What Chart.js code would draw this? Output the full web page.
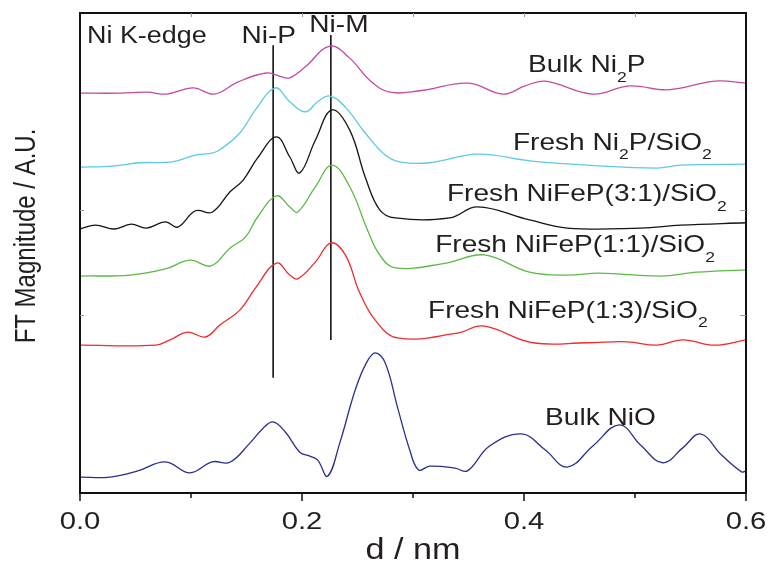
<!DOCTYPE html>
<html>
<head>
<meta charset="utf-8">
<script src="https://cdn.jsdelivr.net/npm/chart.js@4/dist/chart.umd.min.js"></script>
<style>
  html, body { margin: 0; padding: 0; background: #fff; }
  canvas { display: block; }
</style>
</head>
<body>
<canvas id="chart" width="770" height="561"></canvas>
<script>
// FT magnitude curves, [d (nm), offset magnitude (A.U.)]
const bulkNi2P = [
  [0.000, 8.33], [0.036, 8.33], [0.061, 8.35], [0.078, 8.31], [0.102, 8.44], [0.121, 8.31],
  [0.142, 8.56], [0.168, 8.75], [0.182, 8.67], [0.189, 8.65], [0.203, 8.88], [0.225, 9.31],
  [0.243, 9.06], [0.261, 8.60], [0.279, 8.35], [0.306, 8.38], [0.350, 8.54], [0.381, 8.31],
  [0.401, 8.48], [0.419, 8.58], [0.462, 8.31], [0.495, 8.48], [0.530, 8.40], [0.572, 8.58],
  [0.600, 8.54]
];
const freshNi2P = [
  [0.000, 6.79], [0.030, 6.81], [0.054, 6.88], [0.083, 6.90], [0.104, 7.04], [0.119, 7.08],
  [0.126, 7.15], [0.144, 7.50], [0.158, 7.98], [0.176, 8.44], [0.189, 8.15], [0.203, 7.94],
  [0.214, 8.15], [0.225, 8.27], [0.239, 8.04], [0.257, 7.50], [0.275, 7.04], [0.288, 6.90],
  [0.315, 6.88], [0.358, 7.06], [0.405, 6.92], [0.457, 6.83], [0.520, 6.77], [0.541, 6.83],
  [0.600, 6.85]
];
const freshNiFeP31 = [
  [0.000, 5.50], [0.014, 5.58], [0.031, 5.50], [0.046, 5.60], [0.060, 5.52], [0.077, 5.65],
  [0.088, 5.54], [0.104, 5.88], [0.119, 5.85], [0.135, 6.27], [0.147, 6.52], [0.160, 6.98],
  [0.177, 7.42], [0.189, 7.00], [0.198, 6.67], [0.212, 7.35], [0.227, 7.98], [0.243, 7.56],
  [0.257, 6.58], [0.270, 5.90], [0.284, 5.73], [0.333, 5.73], [0.358, 5.96], [0.405, 5.69],
  [0.439, 5.52], [0.505, 5.52], [0.541, 5.58], [0.600, 5.63]
];
const freshNiFeP11 = [
  [0.000, 4.52], [0.045, 4.54], [0.077, 4.67], [0.099, 4.85], [0.118, 4.73], [0.135, 5.10],
  [0.149, 5.33], [0.160, 5.75], [0.177, 6.19], [0.189, 5.96], [0.196, 5.85], [0.212, 6.38],
  [0.227, 6.83], [0.243, 6.38], [0.259, 5.48], [0.270, 4.96], [0.284, 4.69], [0.330, 4.79],
  [0.364, 4.96], [0.405, 4.60], [0.439, 4.54], [0.468, 4.58], [0.523, 4.52], [0.556, 4.60],
  [0.600, 4.65]
];
const freshNiFeP13 = [
  [0.000, 3.08], [0.068, 3.08], [0.081, 3.19], [0.097, 3.35], [0.113, 3.25], [0.126, 3.50],
  [0.144, 3.81], [0.158, 4.27], [0.177, 4.79], [0.189, 4.54], [0.196, 4.46], [0.212, 4.81],
  [0.226, 5.21], [0.239, 4.96], [0.252, 4.17], [0.266, 3.60], [0.286, 3.23], [0.340, 3.33],
  [0.363, 3.48], [0.408, 3.13], [0.457, 3.13], [0.493, 3.15], [0.520, 3.08], [0.543, 3.19],
  [0.572, 3.08], [0.600, 3.19]
];
const bulkNiO = [
  [0.000, 0.33], [0.027, 0.33], [0.052, 0.46], [0.077, 0.65], [0.099, 0.42], [0.119, 0.65],
  [0.135, 0.64], [0.153, 1.04], [0.165, 1.35], [0.174, 1.48], [0.185, 1.27], [0.198, 0.85],
  [0.207, 0.77], [0.214, 0.69], [0.223, 0.35], [0.234, 1.04], [0.248, 2.15], [0.258, 2.71],
  [0.266, 2.92], [0.275, 2.71], [0.286, 1.79], [0.297, 0.90], [0.305, 0.48], [0.315, 0.56],
  [0.338, 0.52], [0.349, 0.46], [0.369, 0.98], [0.398, 1.23], [0.419, 0.90], [0.439, 0.54],
  [0.462, 0.98], [0.486, 1.42], [0.505, 1.00], [0.525, 0.63], [0.543, 0.94], [0.559, 1.23],
  [0.578, 0.79], [0.596, 0.44], [0.600, 0.46]
];

// bond distance markers
const niPLine = [[0.174, 2.40], [0.174, 9.33]];
const niMLine = [[0.226, 3.19], [0.226, 9.54]];

// axis ticks
const xMajorTicks = [0.0, 0.2, 0.4, 0.6];
const xTickLabels = ['0.0', '0.2', '0.4', '0.6'];
const xMinorTicks = [0.1, 0.3, 0.5];
const yTicks = [3.7, 5.9];

// text placed in data units: [text, d, magnitude, align]   ("_" = subscript next char)
const annotations = [
  ['Ni K-edge', 0.0063, 9.375, 'left'],
  ['Ni-P', 0.170, 9.375, 'center'],
  ['Ni-M', 0.2333, 9.60, 'center'],
  ['Bulk Ni_2P', 0.4036, 8.77, 'left'],
  ['Fresh Ni_2P/SiO_2', 0.390, 7.15, 'left'],
  ['Fresh NiFeP(3:1)/SiO_2', 0.3306, 6.08, 'left'],
  ['Fresh NiFeP(1:1)/SiO_2', 0.320, 5.02, 'left'],
  ['Fresh NiFeP(1:3)/SiO_2', 0.3135, 3.65, 'left'],
  ['Bulk NiO', 0.419, 1.42, 'left']
];

const FONT = '"Liberation Sans", Arial, sans-serif';
const TEXT = '#231f20';
const STRETCH = 1.17;

function toXY(pts) {
  return pts.map(([x, y]) => ({ x, y }));
}

function curve(pts, color) {
  return {
    data: toXY(pts),
    borderColor: color,
    borderWidth: 1.3,
    pointRadius: 0,
    tension: 0.4,
    fill: false,
  };
}

function marker(pts) {
  return {
    data: toXY(pts),
    borderColor: '#111',
    borderWidth: 1.6,
    pointRadius: 0,
    tension: 0,
    fill: false,
  };
}

// splits "Ni_2P" into runs of normal / subscript text
function runs(text) {
  const out = [];
  for (let i = 0; i < text.length; i++) {
    if (text[i] === '_' && i + 1 < text.length) {
      out.push({ t: text[i + 1], sub: true });
      i++;
    } else if (out.length && !out[out.length - 1].sub) {
      out[out.length - 1].t += text[i];
    } else {
      out.push({ t: text[i], sub: false });
    }
  }
  return out;
}

function drawLabel(ctx, text, x, y, size, align) {
  const parts = runs(text);
  const subSize = Math.round(size * 0.62);
  let width = 0;
  parts.forEach((p) => {
    ctx.font = (p.sub ? subSize : size) + 'px ' + FONT;
    p.w = ctx.measureText(p.t).width;
    width += p.w;
  });
  ctx.save();
  ctx.translate(x, y);
  ctx.scale(STRETCH, 1);
  let cx = align === 'center' ? -width / 2 : 0;
  ctx.textAlign = 'left';
  ctx.textBaseline = 'alphabetic';
  ctx.fillStyle = TEXT;
  parts.forEach((p) => {
    ctx.font = (p.sub ? subSize : size) + 'px ' + FONT;
    ctx.fillText(p.t, cx, p.sub ? size * 0.4 : 0);
    cx += p.w;
  });
  ctx.restore();
}

const framePlugin = {
  id: 'frame',
  afterDraw(chart) {
    const { ctx, chartArea: a, scales } = chart;
    const xs = scales.x, ys = scales.y;

    ctx.save();
    // box
    ctx.strokeStyle = '#111';
    ctx.lineWidth = 2;
    ctx.strokeRect(a.left, a.top, a.right - a.left, a.bottom - a.top);

    // bottom ticks (outward) and top ticks (inward)
    ctx.lineWidth = 1.5;
    ctx.beginPath();
    xMajorTicks.forEach((v) => {
      const px = xs.getPixelForValue(v);
      ctx.moveTo(px, a.bottom);
      ctx.lineTo(px, a.bottom + 8);
    });
    xMinorTicks.forEach((v) => {
      const px = xs.getPixelForValue(v);
      ctx.moveTo(px, a.bottom);
      ctx.lineTo(px, a.bottom + 5);
    });
    ctx.stroke();

    ctx.strokeStyle = '#999';
    ctx.lineWidth = 1;
    ctx.beginPath();
    [0.1, 0.2, 0.3, 0.4, 0.5].forEach((v) => {
      const px = Math.round(xs.getPixelForValue(v)) + 0.5;
      ctx.moveTo(px, a.top);
      ctx.lineTo(px, a.top + 4);
    });
    yTicks.forEach((v) => {
      const py = Math.round(ys.getPixelForValue(v)) + 0.5;
      ctx.moveTo(a.left, py);
      ctx.lineTo(a.left + 4, py);
      ctx.moveTo(a.right, py);
      ctx.lineTo(a.right - 6, py);
    });
    ctx.stroke();
    ctx.restore();

    // tick labels
    ctx.save();
    ctx.fillStyle = TEXT;
    ctx.font = '24px ' + FONT;
    ctx.textAlign = 'center';
    ctx.textBaseline = 'alphabetic';
    xMajorTicks.forEach((v, i) => {
      ctx.save();
      ctx.translate(xs.getPixelForValue(v), 529);
      ctx.scale(1.22, 1);
      ctx.fillText(xTickLabels[i], 0, 0);
      ctx.restore();
    });

    // axis titles
    ctx.save();
    ctx.font = '29px ' + FONT;
    ctx.translate((a.left + a.right) / 2, 559);
    ctx.scale(1.18, 1);
    ctx.fillText('d / nm', 0, 0);
    ctx.restore();

    ctx.save();
    ctx.font = '24px ' + FONT;
    ctx.translate(35, 236);
    ctx.scale(1.25, 1);
    ctx.rotate(-Math.PI / 2);
    ctx.fillText('FT Magnitude / A.U.', 0, 0);
    ctx.restore();
    ctx.restore();

    // curve and marker labels
    annotations.forEach(([text, d, m, align]) => {
      const size = text === 'Ni K-edge' ? 23 : 24;
      drawLabel(ctx, text, xs.getPixelForValue(d), ys.getPixelForValue(m), size, align);
    });
  },
};

new Chart(document.getElementById('chart'), {
  type: 'line',
  data: {
    datasets: [
      curve(bulkNi2P, '#c44a9f'),
      curve(freshNi2P, '#5ec8e5'),
      curve(freshNiFeP31, '#151515'),
      curve(freshNiFeP11, '#5cb946'),
      curve(freshNiFeP13, '#ef2b2d'),
      curve(bulkNiO, '#2b2f8c'),
      marker(niPLine),
      marker(niMLine),
    ],
  },
  options: {
    responsive: false,
    animation: false,
    devicePixelRatio: 1,
    layout: { padding: { top: 13, right: 24, left: 0, bottom: 0 } },
    plugins: { legend: { display: false }, tooltip: { enabled: false } },
    scales: {
      x: {
        type: 'linear',
        min: 0,
        max: 0.6,
        grid: { display: false },
        border: { display: false },
        ticks: { display: false },
        afterFit: (scale) => { scale.height = 68; },
      },
      y: {
        type: 'linear',
        min: 0,
        max: 10,
        grid: { display: false },
        border: { display: false },
        ticks: { display: false },
        afterFit: (scale) => { scale.width = 80; },
      },
    },
  },
  plugins: [framePlugin],
});
</script>
</body>
</html>
